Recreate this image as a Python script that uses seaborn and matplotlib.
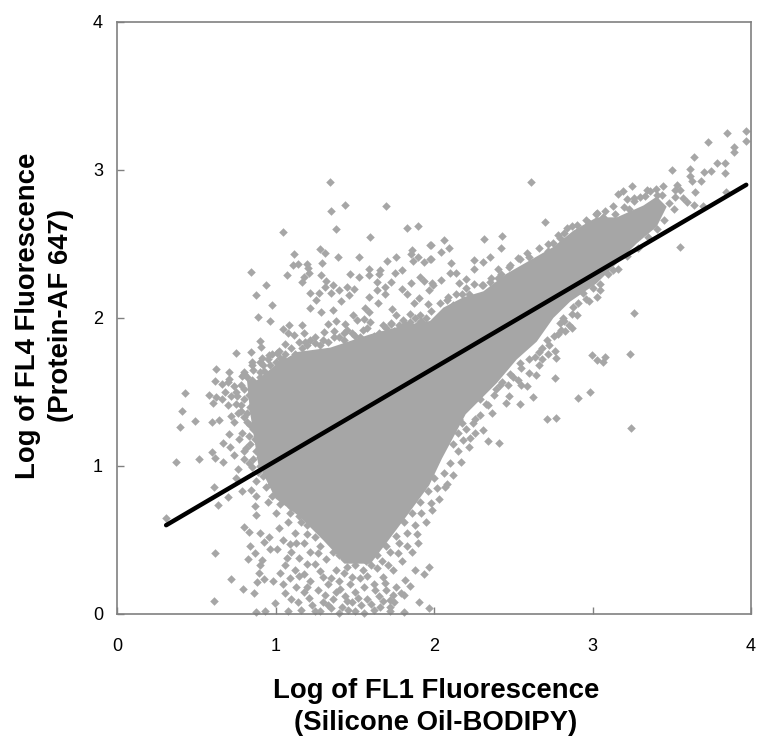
import pandas as pd
import matplotlib
matplotlib.use('Agg')
import matplotlib.pyplot as plt
import seaborn as sns

# Solid core of the cloud, outline
core_x = [0.84, 0.89, 1.0, 1.15, 1.3, 1.44, 1.6, 1.7, 1.84, 1.97, 2.05, 2.11, 2.2, 2.396, 2.522,
          2.648, 2.753, 2.858, 3.026, 3.153, 3.279, 3.405, 3.468, 3.405, 3.321, 3.153, 3.026, 2.879, 2.753,
          2.606, 2.459, 2.311, 2.185, 2.059, 1.975, 1.809, 1.598, 1.346, 1.136, 1.009, 0.883, 0.82]
core_y = [1.36, 1.018, 0.78, 0.66, 0.5, 0.34, 0.34, 0.48, 0.68, 0.87, 1.05, 1.17, 1.35, 1.56, 1.72,
          1.84, 2.0, 2.11, 2.234, 2.369, 2.504, 2.617, 2.752, 2.82, 2.76, 2.68, 2.68, 2.59, 2.48,
          2.39, 2.3, 2.18, 2.14, 2.07, 1.98, 1.95, 1.89, 1.8, 1.77, 1.69, 1.58, 1.58]

# Scattered points above the cloud
upper_x = [1.342, 1.438, 1.352, 1.697, 1.045, 1.384, 1.832, 1.899, 1.598, 1.973, 1.281, 1.31, 1.119, 1.396, 1.525,
           1.861, 1.857, 1.899, 1.76, 1.703, 1.87, 1.935, 1.977, 1.293, 1.108, 1.14, 1.201, 1.203, 0.843, 1.07,
           1.211, 1.18, 1.169, 1.287, 1.321, 1.47, 1.527, 1.592, 1.592, 1.661, 1.651, 1.796, 1.752, 0.942, 0.879,
           0.976, 0.887, 0.965, 1.218, 1.277, 1.256, 1.31, 1.361, 1.35, 1.398, 1.453, 1.495, 1.466, 1.413, 1.588,
           1.642, 1.642, 1.693, 1.729, 1.691, 1.645, 1.8, 1.83, 1.857, 1.914, 1.937, 1.987, 1.966, 1.903, 1.872,
           1.96, 1.218, 1.287, 1.361, 1.567, 1.592, 1.735, 1.758, 1.851, 1.489, 1.514, 1.556, 1.598, 1.729, 1.802,
           1.914, 1.903, 1.384, 1.441, 1.329, 1.083, 1.169, 1.047, 1.367, 1.304, 1.434, 1.178, 1.079, 1.115, 0.9,
           0.911, 1.062, 1.188, 1.251, 0.751, 0.848, 1.009, 0.915, 0.625, 0.707, 0.616, 0.707, 0.799, 0.852, 0.967,
           1.03, 0.662, 0.789, 0.904]
upper_y = [2.917, 2.766, 2.725, 2.759, 2.581, 2.599, 2.606, 2.619, 2.547, 2.495, 2.468, 2.441, 2.435, 2.414, 2.41,
           2.459, 2.43, 2.414, 2.414, 2.383, 2.387, 2.376, 2.396, 2.369, 2.358, 2.362, 2.362, 2.335, 2.311, 2.29,
           2.306, 2.277, 2.245, 2.29, 2.25, 2.297, 2.279, 2.329, 2.29, 2.324, 2.295, 2.324, 2.304, 2.225, 2.153,
           2.085, 2.007, 1.979, 2.171, 2.171, 2.124, 2.212, 2.225, 2.167, 2.189, 2.212, 2.198, 2.155, 2.113, 2.144,
           2.245, 2.189, 2.212, 2.245, 2.16, 2.103, 2.198, 2.162, 2.239, 2.275, 2.25, 2.234, 2.189, 2.133, 2.099,
           2.092, 2.065, 2.04, 2.054, 2.065, 2.04, 2.058, 2.02, 2.029, 2.02, 1.986, 1.993, 1.971, 1.964, 1.986,
           2.02, 1.968, 1.982, 1.959, 1.957, 1.95, 1.95, 1.923, 1.912, 1.907, 1.896, 1.896, 1.896, 1.883, 1.842,
           1.806, 1.824, 1.84, 1.833, 1.763, 1.77, 1.761, 1.727, 1.653, 1.633, 1.572, 1.585, 1.637, 1.682, 1.682,
           1.727, 1.552, 1.608, 1.637]

# Rough edge along the top and left of the cloud
edge_x = [0.75, 0.78, 0.82, 0.86, 0.9, 0.95, 0.98, 1.02, 1.05, 1.1, 1.15, 1.2, 1.25, 1.3, 1.4, 1.45, 1.5, 1.55,
          1.65, 1.7, 1.75, 1.85, 1.95, 0.85, 0.8, 0.84, 0.82, 0.86, 0.84, 0.88, 0.9, 0.92, 0.97, 1.0, 0.95, 0.88,
          1.04, 0.78, 0.75, 0.72, 0.68,
          0.9, 0.93, 0.88, 0.95, 1.0, 1.03, 1.06, 1.12, 1.17, 1.22, 1.28, 1.33, 1.37, 1.43, 1.48, 1.53, 1.58, 1.62,
          1.68, 1.73, 1.78, 1.82, 1.88, 1.92, 1.98, 2.04, 2.09, 2.14, 2.2, 2.25, 2.3, 2.36, 2.42, 2.48, 2.54, 2.6,
          2.66, 2.72, 2.78, 2.84, 2.9, 2.96, 3.02, 3.08, 3.14, 3.2, 3.26, 3.3, 3.36, 3.4, 3.44, 3.48, 3.42, 3.38, 3.34,
          0.8, 0.76, 0.83, 0.78, 0.82, 0.8, 0.84, 0.83, 0.87, 0.86, 0.9, 0.89, 0.94, 0.94, 0.98, 0.88, 0.83, 0.8,
          0.74, 0.7, 0.66, 0.74, 0.7, 0.85, 0.8, 0.92, 0.96, 0.85]
edge_y = [1.5, 1.55, 1.6, 1.65, 1.7, 1.72, 1.76, 1.78, 1.72, 1.8, 1.84, 1.82, 1.87, 1.85, 1.87, 1.92, 1.88, 1.92,
          1.9, 1.93, 1.91, 1.97, 2.0, 1.52, 1.45, 1.4, 1.3, 1.25, 1.15, 1.1, 1.0, 0.93, 0.88, 0.84, 0.76, 0.8,
          0.9, 1.37, 1.42, 1.47, 1.5,
          1.6, 1.64, 1.55, 1.6, 1.7, 1.69, 1.76, 1.76, 1.8, 1.85, 1.82, 1.84, 1.87, 1.85, 1.9, 1.87, 1.93, 1.88,
          1.95, 1.96, 1.95, 1.96, 2.0, 1.98, 2.05, 2.1, 2.14, 2.16, 2.2, 2.23, 2.22, 2.27, 2.3, 2.36, 2.4, 2.41,
          2.47, 2.5, 2.56, 2.61, 2.63, 2.66, 2.7, 2.72, 2.7, 2.75, 2.79, 2.82, 2.86, 2.87, 2.83, 2.78, 2.72, 2.68, 2.62,
          1.52, 1.47, 1.48, 1.41, 1.36, 1.33, 1.28, 1.2, 1.18, 1.05, 1.06, 0.96, 1.0, 0.86, 0.94, 0.9, 1.02, 1.1,
          1.3, 1.41, 1.45, 1.54, 1.57, 1.58, 1.62, 1.68, 1.75, 1.7]

# Left side and lower left
left_x = [0.431, 0.578, 0.625, 0.604, 0.412, 0.492, 0.4, 0.597, 0.641, 0.721, 0.761, 0.705, 0.768, 0.789, 0.669,
          0.715, 0.812, 0.37, 0.517, 0.599, 0.62, 0.667, 0.736, 0.799, 0.761, 0.852, 0.751, 0.61, 0.698, 0.635,
          0.789, 0.845, 0.311, 0.869, 0.879, 0.799, 0.835, 0.904, 0.957, 0.925, 0.837, 0.967, 0.62, 0.824, 0.873,
          0.915, 0.904, 0.894, 0.719, 0.925, 0.883, 0.984, 0.795, 0.866, 0.61, 0.999, 0.879, 0.936]
left_y = [1.493, 1.482, 1.468, 1.428, 1.374, 1.302, 1.261, 1.295, 1.313, 1.338, 1.356, 1.216, 1.18, 1.221, 1.153,
          1.131, 1.119, 1.025, 1.045, 1.097, 1.052, 1.025, 1.074, 1.049, 0.977, 0.995, 0.917, 0.856, 0.793, 0.736,
          0.833, 0.838, 0.651, 0.73, 0.669, 0.59, 0.556, 0.545, 0.522, 0.489, 0.459, 0.439, 0.41, 0.372, 0.41,
          0.365, 0.331, 0.279, 0.239, 0.236, 0.214, 0.221, 0.167, 0.14, 0.088, 0.077, 0.016, 0.022]

# Fan of points below the cloud
fan_x = [1.05, 1.1, 1.0, 1.08, 1.15, 1.2, 1.12, 1.05, 1.18, 1.25, 1.3, 1.1, 1.15, 1.22, 1.28, 1.35, 1.06, 1.03,
         1.12, 1.18, 1.25, 1.32, 1.4, 1.45, 1.38, 1.3, 1.22, 1.13, 1.06, 1.1, 1.18, 1.27, 1.33, 1.4, 1.48, 1.55,
         1.6, 1.67, 1.72, 1.78, 1.83, 1.88, 1.92, 1.74, 1.8, 1.86, 1.9, 1.68, 1.62, 1.56, 1.5, 1.44, 1.36, 1.3,
         1.23, 1.16, 1.08, 1.28, 1.35, 1.42, 1.48, 1.54, 1.58, 1.65, 1.7, 1.76, 1.82, 1.88, 1.5, 1.56, 1.62, 1.66,
         1.75, 1.98, 2.02, 2.06, 2.1, 2.15, 2.08, 2.0, 1.966, 1.939, 1.966, 1.903, 1.813, 1.809, 1.725, 1.725,
         1.02, 1.07, 1.12, 1.17, 1.22, 1.27, 1.14, 1.03, 0.98, 1.09, 1.16, 1.24, 1.31, 1.36, 1.42, 1.2, 1.27, 1.34,
         1.41, 1.47, 1.52, 1.13, 1.09, 1.02, 1.01, 1.07, 1.2, 1.27, 1.36, 1.43, 1.5, 1.57, 1.64, 1.7, 1.76, 1.81,
         1.86, 1.91, 1.96, 1.69, 1.74, 1.79, 1.84, 1.88, 1.64, 1.71, 1.77, 1.83, 1.89, 1.95, 1.99, 2.03, 2.07, 2.12,
         2.17, 2.22, 2.26, 1.43, 1.35, 1.28, 1.2, 1.15, 1.09, 1.05, 1.41, 1.47, 1.53, 1.58, 1.63, 1.69, 1.74, 1.79,
         1.85, 1.31, 1.38, 1.45, 1.52, 1.21, 1.14, 1.25, 1.33, 1.4, 1.46, 1.6, 1.68, 1.72]
fan_y = [0.78, 0.72, 0.68, 0.62, 0.66, 0.6, 0.55, 0.5, 0.48, 0.52, 0.55, 0.42, 0.38, 0.42, 0.46, 0.48, 0.33, 0.28,
         0.3, 0.27, 0.34, 0.37, 0.4, 0.32, 0.3, 0.25, 0.22, 0.18, 0.14, 0.1, 0.15, 0.16, 0.2, 0.22, 0.25, 0.3,
         0.33, 0.36, 0.42, 0.48, 0.55, 0.6, 0.68, 0.3, 0.36, 0.42, 0.48, 0.25, 0.2, 0.18, 0.15, 0.12, 0.1, 0.08,
         0.06, 0.03, 0.02, 0.02, 0.04, 0.05, 0.08, 0.06, 0.1, 0.12, 0.16, 0.18, 0.23, 0.3, 0.02, 0.01, 0.03, 0.05,
         0.08, 0.75, 0.85, 0.95, 1.02, 1.1, 0.88, 0.92, 0.315, 0.268, 0.038, 0.083, 0.128, 0.016, 0.095, 0.05,
         0.82, 0.84, 0.8, 0.78, 0.74, 0.7, 0.72, 0.74, 0.8, 0.68, 0.62, 0.64, 0.62, 0.58, 0.55, 0.54, 0.58, 0.52,
         0.47, 0.42, 0.38, 0.48, 0.47, 0.58, 0.44, 0.38, 0.34, 0.41, 0.42, 0.37, 0.33, 0.36, 0.4, 0.46, 0.53, 0.62,
         0.68, 0.76, 0.83, 0.52, 0.6, 0.68, 0.74, 0.82, 0.31, 0.33, 0.41, 0.46, 0.54, 0.62, 0.7, 0.78, 0.86, 0.94,
         1.03, 1.13, 1.22, 0.28, 0.24, 0.29, 0.18, 0.26, 0.24, 0.2, 0.17, 0.2, 0.24, 0.26, 0.16, 0.21, 0.13, 0.14,
         0.19, 0.13, 0.15, 0.09, 0.11, 0.11, 0.08, 0.02, 0.06, 0.01, 0.03, 0.07, 0.09, 0.02]

# Upper right end of the cloud
right_x = [3.971, 3.847, 3.971, 3.731, 3.895, 3.895, 3.639, 3.786, 3.834, 3.5, 3.615, 3.706, 3.748, 3.838, 3.615,
           3.626, 3.685, 2.612, 3.252, 3.443, 3.531, 3.521, 3.552, 3.647, 3.842, 3.19, 3.159, 3.342, 3.331, 3.405,
           3.216, 3.262, 3.521, 3.573, 3.594, 3.641, 3.695, 3.517, 3.128, 3.228, 3.031, 3.069, 2.701, 2.871, 2.976,
           2.82, 2.795, 2.318, 2.427, 2.061, 2.097, 2.042, 1.979, 1.981, 2.423, 2.589, 2.717, 2.753, 2.356, 2.25,
           2.311, 2.528, 2.11, 2.255, 2.406, 2.473, 2.101, 2.139, 2.046, 2.202, 2.16, 1.996, 2.311, 2.354, 2.406,
           2.175, 2.223, 2.08, 2.122]
right_y = [3.265, 3.247, 3.193, 3.187, 3.153, 3.123, 3.09, 3.049, 3.049, 3.002, 3.009, 2.984, 2.991, 2.977, 2.961,
           2.928, 2.928, 2.919, 2.891, 2.891, 2.898, 2.864, 2.864, 2.853, 2.853, 2.858, 2.837, 2.864, 2.824, 2.831,
           2.801, 2.808, 2.815, 2.808, 2.786, 2.763, 2.759, 2.734, 2.759, 2.736, 2.707, 2.684, 2.646, 2.621, 2.639,
           2.574, 2.538, 2.536, 2.556, 2.529, 2.47, 2.448, 2.493, 2.396, 2.47, 2.437, 2.455, 2.504, 2.412, 2.389,
           2.376, 2.403, 2.369, 2.329, 2.331, 2.346, 2.301, 2.301, 2.256, 2.263, 2.234, 2.223, 2.223, 2.245, 2.268,
           2.162, 2.159, 2.121, 2.087]

# Points under the line on the right
lower_x = [3.554, 3.264, 3.239, 2.999, 3.027, 3.081, 3.069, 3.245, 2.987, 2.909, 2.711, 2.772, 2.766, 2.627, 2.543,
           2.41, 2.343, 2.77, 2.764, 2.644, 2.602, 2.661, 2.637, 2.68, 2.728, 2.585, 2.476, 2.454, 2.532, 2.5,
           2.543, 2.785, 2.827, 2.871, 2.795, 2.816, 2.879, 2.98, 3.027, 2.942, 3.048, 3.132, 2.364, 2.311, 2.227,
           2.248, 2.29, 2.175, 2.154, 2.185, 2.343, 2.417,
           2.12, 2.2, 2.16, 2.26, 2.33, 2.38, 2.29, 2.43, 2.48, 2.39, 2.55, 2.6, 2.66, 2.71, 2.76, 2.82, 2.87, 2.91,
           2.96, 3.0, 3.05, 3.1, 3.16, 3.22, 3.29, 3.35, 3.41, 3.45, 2.55, 2.47, 2.68, 2.72, 2.8, 2.85, 2.9]
lower_y = [2.477, 2.033, 1.756, 1.75, 1.716, 1.738, 1.7, 1.254, 1.497, 1.459, 1.319, 1.326, 1.592, 1.466, 1.421,
           1.157, 1.171, 1.727, 1.779, 1.614, 1.626, 1.682, 1.738, 1.795, 1.817, 1.54, 1.473, 1.423, 1.581, 1.603,
           1.693, 1.892, 1.909, 1.934, 1.964, 1.997, 2.076, 2.117, 2.139, 2.171, 2.189, 2.324, 1.36, 1.243, 1.187,
           1.288, 1.344, 1.288, 1.22, 1.175, 1.412, 1.547,
           1.15, 1.25, 1.32, 1.32, 1.42, 1.48, 1.45, 1.57, 1.62, 1.52, 1.66, 1.72, 1.77, 1.85, 1.88, 1.98, 2.03, 2.1,
           2.13, 2.2, 2.23, 2.3, 2.33, 2.42, 2.47, 2.55, 2.6, 2.66, 1.55, 1.55, 1.72, 1.76, 1.92, 1.95, 2.02]

# Fit line end points
fit_x = [0.31, 3.97]
fit_y = [0.60, 2.90]

ticks = [0, 1, 2, 3, 4]

df = pd.DataFrame({
    'x': upper_x + edge_x + left_x + fan_x + right_x + lower_x,
    'y': upper_y + edge_y + left_y + fan_y + right_y + lower_y,
})

sns.set_style('white')
plt.rcParams['font.family'] = ['Liberation Sans', 'DejaVu Sans']

fig = plt.figure(figsize=(7.57, 7.41), dpi=100)
ax = fig.add_axes([117 / 757, 1 - 614 / 741, 634 / 757, 592 / 741])

grey = '#a6a6a6'
ax.fill(core_x, core_y, color=grey, lw=0, zorder=1)
sns.scatterplot(data=df, x='x', y='y', marker='D', s=19, color=grey, linewidth=0, ax=ax, zorder=2, clip_on=False)
sns.lineplot(x=fit_x, y=fit_y, color='black', lw=3.2, ax=ax, zorder=3)

ax.set_xlim(0, 4)
ax.set_ylim(0, 4)
ax.set_xticks(ticks)
ax.set_yticks(ticks)
ax.tick_params(direction='in', length=5, width=1, color='#808080', labelsize=13, labelcolor='black',
               bottom=True, left=True)
ax.tick_params(axis='x', pad=17)
ax.tick_params(axis='y', pad=10)
for s in ax.spines.values():
    s.set_color('#808080')
    s.set_linewidth(1.2)

ax.set_xlabel('')
ax.set_ylabel('')
fig.text(436 / 757, 1 - 707 / 741, 'Log of FL1 Fluorescence\n(Silicone Oil-BODIPY)', ha='center', va='center',
         fontsize=19.8, fontweight='bold', linespacing=1.35, color='black')
fig.text(45 / 757, 1 - 316 / 741, 'Log of FL4 Fluorescence\n(Protein-AF 647)', ha='center', va='center',
         rotation=90, fontsize=19.8, fontweight='bold', linespacing=1.35, color='black')

plt.savefig('out.png', dpi=100)
